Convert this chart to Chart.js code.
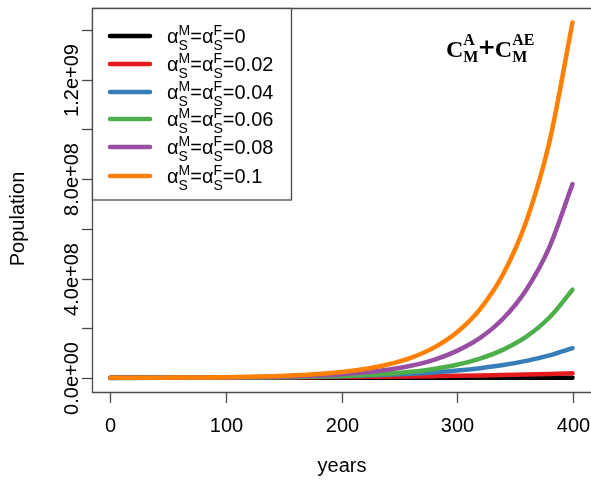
<!DOCTYPE html>
<html>
<head>
<meta charset="utf-8">
<script src="https://cdn.jsdelivr.net/npm/chart.js@4/dist/chart.umd.min.js"></script>
<style>
  html, body { margin: 0; padding: 0; background: #fff; overflow: hidden; }
  #wrap { width: 591px; height: 480px; position: relative; }
</style>
</head>
<body>
<div id="wrap"><canvas id="c" width="591" height="480"></canvas></div>
<script>
// Simulated population over time for several sex-independent survival penalties
const years = [0, 20, 40, 60, 80, 100, 120, 140, 160, 180, 200, 220, 240, 260, 280, 300, 320, 340, 360, 380, 400];

const popAlpha000 = [5.0e5, 5.2e5, 5.5e5, 5.7e5, 6.0e5, 6.2e5, 6.5e5, 6.8e5, 7.0e5, 7.3e5, 7.6e5, 8.0e5, 8.3e5, 8.6e5, 9.0e5, 9.4e5, 9.8e5, 1.02e6, 1.06e6, 1.10e6, 1.15e6];
const popAlpha002 = [7.8e5, 9.1e5, 1.07e6, 1.25e6, 1.47e6, 1.7e6, 2.0e6, 2.4e6, 2.8e6, 3.3e6, 3.8e6, 4.5e6, 5.3e6, 6.2e6, 7.3e6, 8.5e6, 1.0e7, 1.18e7, 1.38e7, 1.62e7, 1.9e7];
const popAlpha004 = [4.4e5, 5.9e5, 7.8e5, 1.03e6, 1.36e6, 1.8e6, 2.4e6, 3.15e6, 4.2e6, 5.5e6, 7.3e6, 9.7e6, 1.28e7, 1.69e7, 2.24e7, 2.96e7, 3.92e7, 5.18e7, 6.86e7, 9.07e7, 1.2e8];
const popAlpha006 = [1.78e5, 2.6e5, 3.8e5, 5.6e5, 8.1e5, 1.19e6, 1.74e6, 2.5e6, 3.7e6, 5.4e6, 7.9e6, 1.16e7, 1.7e7, 2.48e7, 3.63e7, 5.3e7, 7.8e7, 1.14e8, 1.66e8, 2.43e8, 3.55e8];
const popAlpha008 = [2.9e5, 4.4e5, 6.5e5, 9.6e5, 1.43e6, 2.1e6, 3.1e6, 4.66e6, 6.9e6, 1.02e7, 1.52e7, 2.25e7, 3.3e7, 4.9e7, 7.3e7, 1.09e8, 1.61e8, 2.39e8, 3.55e8, 5.26e8, 7.8e8];
const popAlpha010 = [3.9e5, 5.9e5, 8.9e5, 1.35e6, 2.0e6, 3.06e6, 4.6e6, 6.9e6, 1.04e7, 1.57e7, 2.37e7, 3.57e7, 5.4e7, 8.1e7, 1.22e8, 1.84e8, 2.77e8, 4.18e8, 6.3e8, 9.49e8, 1.43e9];

const alphaValues = ['0', '0.02', '0.04', '0.06', '0.08', '0.1'];
const seriesColors = ['#000000', '#E41A1C', '#377EB8', '#4DAF4A', '#984EA3', '#FF7F00'];
const seriesData = [popAlpha000, popAlpha002, popAlpha004, popAlpha006, popAlpha008, popAlpha010];

const xTicks = [0, 100, 200, 300, 400];
const yTicks = [0, 2e8, 4e8, 6e8, 8e8, 1e9, 1.2e9, 1.4e9];
const yTickLabels = { 0: '0.0e+00', 4e8: '4.0e+08', 8e8: '8.0e+08', 1.2e9: '1.2e+09' };

const AXIS_COLOR = '#4a4a4a';
const SANS = '"Liberation Sans", Arial, sans-serif';
const SERIF = '"Liberation Serif", "Times New Roman", serif';

const datasets = seriesData.map((vals, i) => ({
  label: 'alpha=' + alphaValues[i],
  data: years.map((y, j) => ({ x: y, y: vals[j] })),
  borderColor: seriesColors[i],
  backgroundColor: seriesColors[i],
  borderWidth: 4.5,
  borderCapStyle: 'round',
  borderJoinStyle: 'round',
  pointRadius: 0,
  fill: false,
  cubicInterpolationMode: 'monotone',
  order: seriesData.length - i   // later series drawn on top
}));

// Axes, box, tick labels, titles and legend in base-graphics style
const decorations = {
  id: 'decorations',
  afterDraw(chart) {
    const ctx = chart.ctx;
    const area = chart.chartArea;
    const xs = chart.scales.x;
    const ys = chart.scales.y;
    ctx.save();

    // plot box (right edge falls at the canvas edge)
    ctx.strokeStyle = AXIS_COLOR;
    ctx.lineWidth = 1.3;
    ctx.beginPath();
    ctx.moveTo(area.right + 2, area.top + 0.5);
    ctx.lineTo(area.left + 0.5, area.top + 0.5);
    ctx.lineTo(area.left + 0.5, area.bottom + 0.5);
    ctx.lineTo(area.right + 2, area.bottom + 0.5);
    ctx.stroke();

    // x ticks + labels
    ctx.fillStyle = '#000';
    ctx.font = '20px ' + SANS;
    ctx.textAlign = 'center';
    ctx.textBaseline = 'middle';
    xTicks.forEach(v => {
      const px = Math.round(xs.getPixelForValue(v)) + 0.5;
      ctx.beginPath();
      ctx.moveTo(px, area.bottom);
      ctx.lineTo(px, area.bottom + 11);
      ctx.stroke();
      ctx.fillText(String(v), px, 426);
    });

    // y ticks + rotated labels
    yTicks.forEach(v => {
      const py = Math.round(ys.getPixelForValue(v)) + 0.5;
      ctx.beginPath();
      ctx.moveTo(area.left - 10, py);
      ctx.lineTo(area.left, py);
      ctx.stroke();
      if (yTickLabels[v] !== undefined) {
        ctx.save();
        ctx.translate(72, py);
        ctx.rotate(-Math.PI / 2);
        ctx.fillText(yTickLabels[v], 0, 0);
        ctx.restore();
      }
    });

    // axis titles
    ctx.fillText('years', 342, 466);
    ctx.save();
    ctx.translate(18, 219);
    ctx.rotate(-Math.PI / 2);
    ctx.fillText('Population', 0, 0);
    ctx.restore();

    // legend box
    const lx0 = 92, ly0 = 8.5, lx1 = 291, ly1 = 200;
    ctx.fillStyle = '#fff';
    ctx.fillRect(lx0, ly0, lx1 - lx0, ly1 - ly0);
    ctx.strokeStyle = AXIS_COLOR;
    ctx.lineWidth = 1.3;
    ctx.strokeRect(lx0 + 0.5, ly0, lx1 - lx0, ly1 - ly0);

    const rowYs = [36, 64, 92, 119, 147, 176];
    alphaValues.forEach((val, i) => {
      const ry = rowYs[i];
      ctx.strokeStyle = seriesColors[i];
      ctx.lineWidth = 4.5;
      ctx.lineCap = 'round';
      ctx.beginPath();
      ctx.moveTo(110, ry);
      ctx.lineTo(150, ry);
      ctx.stroke();

      ctx.fillStyle = '#000';
      ctx.textAlign = 'left';
      ctx.textBaseline = 'alphabetic';
      let x = 167;
      const main = '20px ' + SANS, small = '14px ' + SANS;
      const piece = (sup, sub) => {
        ctx.font = main;
        ctx.fillText('\u03B1', x, ry + 7);
        x += ctx.measureText('\u03B1').width;
        ctx.font = small;
        ctx.fillText(sup, x, ry - 1);
        ctx.fillText(sub, x, ry + 14);
        x += Math.max(ctx.measureText(sup).width, ctx.measureText(sub).width);
      };
      piece('M', 'S');
      ctx.font = main;
      ctx.fillText('=', x, ry + 7);
      x += ctx.measureText('=').width;
      piece('F', 'S');
      ctx.font = main;
      ctx.fillText('=' + val, x, ry + 7);
    });

    // panel label C_M^A + C_M^AE
    ctx.fillStyle = '#000';
    ctx.textAlign = 'left';
    ctx.textBaseline = 'alphabetic';
    const big = 'bold 24px ' + SERIF, sm = 'bold 16px ' + SERIF;
    const plusFont = 'bold 22px "DejaVu Sans", sans-serif';
    let tx = 446;
    const cWithScripts = (sup) => {
      ctx.font = big;
      ctx.fillText('C', tx, 57);
      tx += ctx.measureText('C').width;
      ctx.font = sm;
      ctx.fillText(sup, tx, 45);
      ctx.fillText('M', tx, 62);
      tx += Math.max(ctx.measureText(sup).width, ctx.measureText('M').width);
    };
    cWithScripts('A');
    ctx.font = plusFont;
    ctx.fillText('+', tx - 1, 54);
    tx += ctx.measureText('+').width - 2;
    cWithScripts('AE');

    ctx.restore();
  }
};

new Chart(document.getElementById('c'), {
  type: 'line',
  data: { datasets },
  options: {
    responsive: false,
    animation: false,
    events: [],
    layout: { padding: { top: 8, right: 0, bottom: 0, left: 0 } },
    plugins: { legend: { display: false }, tooltip: { enabled: false }, title: { display: false } },
    scales: {
      x: {
        type: 'linear',
        min: -16,
        max: 416,
        grid: { display: false },
        border: { display: false },
        ticks: { display: false },
        afterFit: s => { s.height = 88; }
      },
      y: {
        type: 'linear',
        min: -5.65e7,
        max: 1.488e9,
        grid: { display: false },
        border: { display: false },
        ticks: { display: false },
        afterFit: s => { s.width = 92; }
      }
    }
  },
  plugins: [decorations]
});
</script>
</body>
</html>
